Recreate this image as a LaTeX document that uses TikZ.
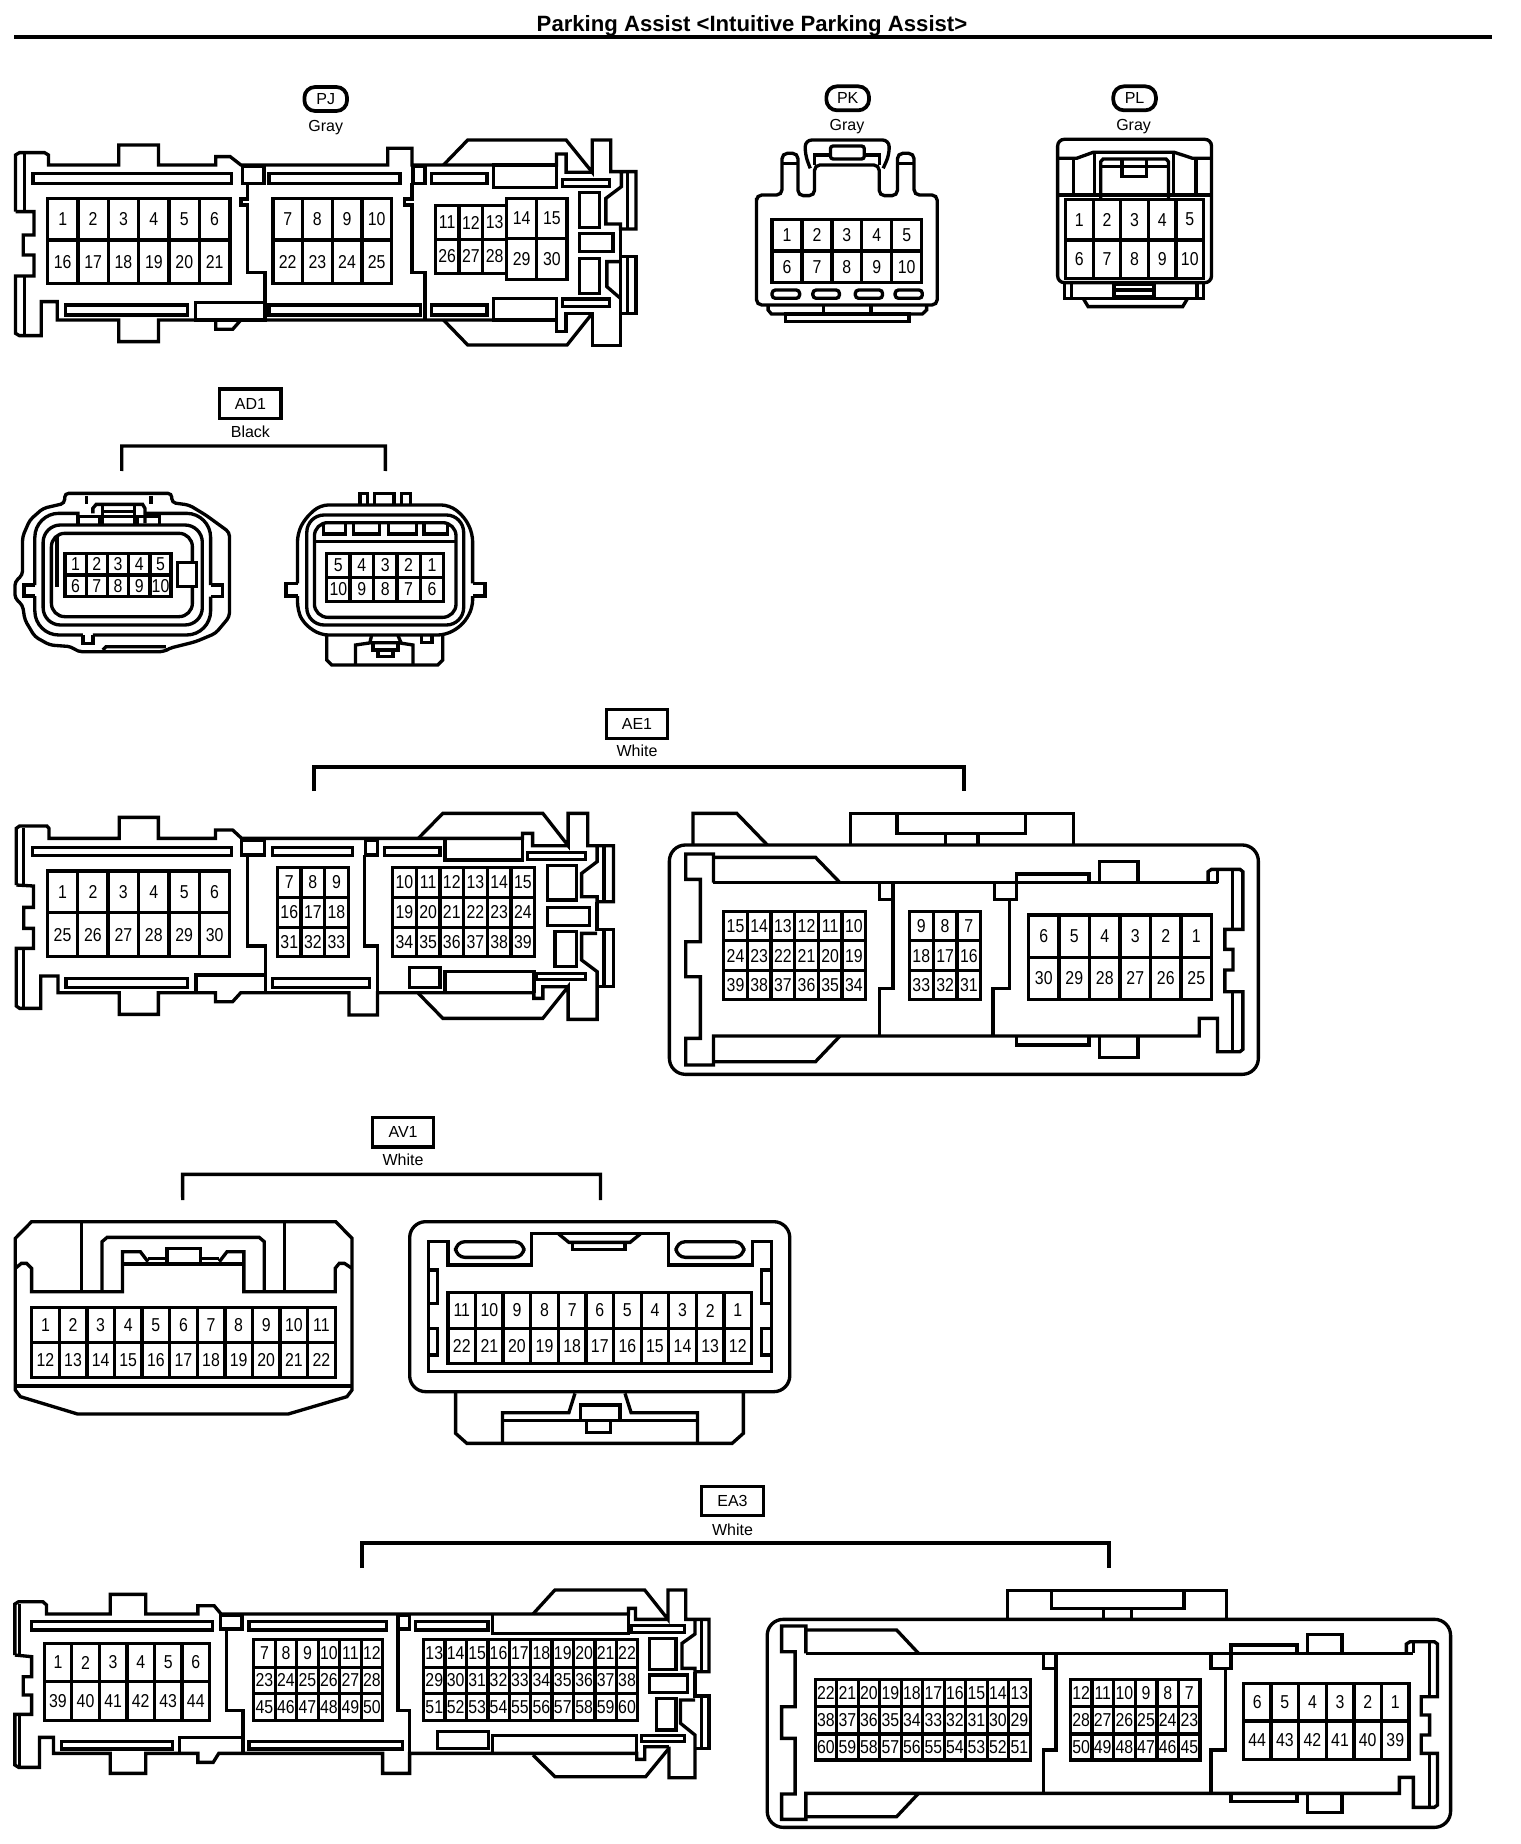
\documentclass[tikz,border=0pt]{standalone}
\usepackage{fontspec}
\setmainfont{Liberation Sans}
\newfontfamily\pinfont[FakeStretch=0.85]{Liberation Sans}

\tikzset{
  body/.style={line width=2.5pt,line join=miter},
  bracket/.style={line width=2.5pt},
  pinbox/.style={line width=2.5pt},
  pinnum/.style={font=\pinfont\fontsize{14}{14}\selectfont,inner sep=0pt},
  tagbox/.style={draw,line width=2.4pt,minimum width=46pt,minimum height=22pt,inner sep=0pt,font=\fontsize{12}{12}\selectfont},
  tagoval/.style={draw,line width=2.8pt,rounded corners=8pt,minimum width=32pt,minimum height=18pt,inner sep=0pt,font=\fontsize{12}{12}\selectfont},
  colour/.style={inner sep=0pt,font=\fontsize{12}{12}\selectfont},
  frame/.style n args={3}{shift={(#1,#2)},xscale=1/#3,yscale=1/3},
}

% x, cell width, top, bottom, labels
\newcommand{\pingrid}[5]{
  \foreach \lab [count=\n from 0] in {#5} {
    \draw[pinbox] ({#1+\n*#2},#3) rectangle ({#1+(\n+1)*#2},#4);
    \node[pinnum] (pin\lab) at ({#1+(\n+.5)*#2},{(#3+#4)/2}) {\lab};
  }
}

\begin{document}
\begin{tikzpicture}[x=0.75pt,y=-0.75pt]
  \useasboundingbox (0,0) rectangle (1520,1844);

  % title
  \node[inner sep=0pt,font=\fontsize{16.6}{16.6}\selectfont\bfseries] (title) at (752,26) {Parking Assist <Intuitive Parking Assist>};
  \coordinate (ruleL) at (14,37);
  \coordinate (ruleR) at (1492,37);
  \draw[line width=3.7pt] (ruleL) -- (ruleR);

  % PJ
  \begin{scope}[frame={0}{0}{2.063},name prefix=PJ-]
    \node[tagoval] (tag) at (672,297) {PJ};
    \node[colour] (col) at (672,382) {Gray};
    \draw[body] (32,635) -- (32,465) -- (40,458) -- (92,458) -- (100,465) -- (100,495) -- (245,495) -- (245,435) -- (327,435) -- (327,495) -- (445,495) -- (445,470) -- (475,470) -- (497,495) -- (800,495) -- (800,445) -- (850,445) -- (850,495) -- (1148,495) -- (1148,462) -- (1168,462) -- (1168,517) -- (1222,517);
    \draw[body] (915,495) -- (965,420) -- (1168,420) -- (1222,517) -- (1222,420) -- (1260,420) -- (1260,515) -- (1312,515) -- (1312,687) -- (1280,687) -- (1280,672) -- (1250,672) -- (1250,595) -- (1282,560) -- (1282,515);
    \draw[body] (1295,515) -- (1295,687);
    \draw[body] (1280,687) -- (1280,770) -- (1312,770) -- (1312,940) -- (1280,940) -- (1280,770);
    \draw[body] (1295,770) -- (1295,940);
    \draw[body] (1280,785) -- (1252,785) -- (1252,860) -- (1280,895);
    \draw[body] (1280,940) -- (1280,1037) -- (1222,1037) -- (1222,940) -- (1168,940) -- (1168,995) -- (1148,995) -- (1148,960);
    \draw[body] (915,960) -- (965,1035) -- (1170,1035) -- (1222,940);
    \draw[body] (32,635) -- (70,635) -- (70,705) -- (48,705) -- (48,765) -- (70,765) -- (70,828) -- (32,828) -- (32,1000) -- (40,1007) -- (85,1007) -- (85,905) -- (118,905) -- (118,960) -- (245,960) -- (245,1025) -- (327,1025) -- (327,960) -- (445,960) -- (445,988) -- (480,988) -- (497,960) -- (1148,960);
    \draw[body] (50,462) -- (50,635) (50,828) -- (50,1005);
    % slots
    \foreach \xa/\ya/\xb/\yb in {68/520/478/550,135/915/387/945,555/520/825/550,555/915/868/945,890/520/1005/550,890/915/1005/945,1018/495/1148/563,1018/895/1148/960,500/500/545/550,852/500/877/550,403/908/547/960,1160/538/1257/560,1160/897/1257/920,1195/577/1237/682,1195/700/1265/755,1195/775/1237/880}
      \draw[body] (\xa,\ya) rectangle (\xb,\yb);
    % dividers
    \draw[body] (510,550) -- (510,597) -- (497,597) -- (497,615) -- (510,615) -- (510,818) -- (547,818) -- (547,960);
    \draw[body] (850,550) -- (850,597) -- (835,597) -- (835,615) -- (850,615) -- (850,818) -- (877,818) -- (877,960);
    \pingrid{98}{62.7}{595}{720}{1,...,6}
    \pingrid{98}{62.7}{720}{850}{16,...,21}
    \pingrid{563}{61.2}{595}{720}{7,...,10}
    \pingrid{563}{61.2}{720}{850}{22,...,25}
    \pingrid{898}{49}{617}{718}{11,12,13}
    \pingrid{898}{49}{718}{820}{26,27,28}
    \pingrid{1045}{62.5}{595}{716}{14,15}
    \pingrid{1045}{62.5}{716}{838}{29,30}
  \end{scope}

  % PK
  \begin{scope}[frame={720}{60}{3.015},name prefix=PK-]
    \node[tagoval] (tag) at (385,115) {PK};
    \node[colour] (col) at (383,201) {Gray};
    \draw[body,rounded corners=4pt] (110,430) -- (110,405) -- (187,405) -- (187,280) -- (235,280) -- (235,407) -- (285,407) -- (285,315) -- (480,315) -- (480,407) -- (535,407) -- (535,280) -- (585,280) -- (585,405) -- (655,405) -- (655,735) -- (110,735) -- cycle;
    \draw[body] (187,310) -- (235,310) (535,310) -- (585,310);
    \draw[body,rounded corners=5pt] (272,325) -- (257,285) -- (257,240) -- (510,240) -- (510,285) -- (492,325);
    \draw[body] (285,315) -- (285,285) -- (480,285) -- (480,315);
    \draw[body,fill=white,rounded corners=2pt] (333,258) rectangle (435,297);
    \draw[body] (145,738) -- (145,750) -- (155,762) -- (610,762) -- (623,750) -- (623,738);
    \draw[body] (312,738) -- (312,762) (455,738) -- (455,762);
    \draw[body] (197,762) rectangle (570,785);
    \foreach \xa/\xb in {157/240,280/360,408/490,528/610}
      \draw[body,rounded corners=2.5pt] (\xa,690) rectangle (\xb,715);
    \pingrid{157}{90.2}{478}{573}{1,...,5}
    \pingrid{157}{90.2}{573}{668}{6,...,10}
  \end{scope}

  % PL
  \begin{scope}[frame={720}{60}{3.015},name prefix=PL-]
    \node[tagoval] (tag) at (1250,115) {PL};
    \node[colour] (col) at (1247,201) {Gray};
    \draw[body,rounded corners=5pt] (1018,668) -- (1018,238) -- (1482,238) -- (1482,668) -- cycle;
    \draw[body] (1018,295) -- (1075,295) -- (1125,277) -- (1370,277) -- (1425,295) -- (1482,295);
    \draw[body] (1018,405) -- (1482,405);
    \draw[body] (1065,295) -- (1065,405) (1435,295) -- (1435,405) (1130,277) -- (1130,405) (1368,277) -- (1368,405);
    \draw[body] (1148,415) -- (1148,305) -- (1155,297) -- (1345,297) -- (1352,305) -- (1352,415);
    \draw[body] (1148,320) -- (1352,320);
    \draw[body] (1212,300) -- (1212,350) -- (1285,350) -- (1285,300);
    \pingrid{1042}{83.2}{418}{540}{1,...,5}
    \pingrid{1042}{83.2}{540}{655}{6,...,10}
    \draw[body] (1038,668) -- (1038,715) -- (1458,715) -- (1458,668);
    \draw[body] (1060,668) -- (1060,715) (1438,668) -- (1438,715);
    \draw[body] (1188,672) rectangle (1308,710);
    \draw[body] (1188,690) -- (1308,690);
    \draw[body] (1095,715) -- (1110,740) -- (1395,740) -- (1410,715);
  \end{scope}

  % AD1
  \begin{scope}[frame={0}{370}{3.015},name prefix=AD-]
    \node[tagbox] (tag) at (755,101) {AD1};
    \node[colour] (col) at (755,185) {Black};
    \coordinate (brL) at (367,303);
    \coordinate (brR) at (1162,303);
    \draw[bracket] (brL) -- (367,228) -- (1162,228) -- (brR);
    % left half
    \draw[body,rounded corners=3pt] (45,660) -- (45,635) -- (68,615) -- (68,500) -- (90,450) -- (130,415) -- (195,400) -- (195,370) -- (518,370) -- (518,398) -- (570,405) -- (620,435) -- (692,487) -- (692,740) -- (650,790) -- (590,815) -- (510,835) -- (495,845) -- (235,845) -- (215,830) -- (150,825) -- (105,800) -- (75,750) -- (68,705) -- (45,685) -- cycle;
    \draw[body,rounded corners=18pt] (105,645) -- (105,430) -- (240,430);
    \draw[body,rounded corners=18pt] (437,430) -- (635,430) -- (635,645);
    \draw[body] (105,645) -- (72,645) -- (72,678) -- (105,678);
    \draw[body,rounded corners=18pt] (105,678) -- (105,795) -- (250,795);
    \draw[body] (250,795) -- (250,820) -- (280,820) -- (280,795);
    \draw[body,rounded corners=18pt] (280,795) -- (635,795) -- (635,680);
    \draw[body] (635,645) -- (670,645) -- (670,680) -- (635,680);
    \draw[body,rounded corners=13pt] (130,465) rectangle (610,765);
    \draw[body,rounded corners=10pt] (155,490) rectangle (580,740);
    \draw[body] (172,500) -- (172,650);
    \draw[body,fill=white] (535,578) rectangle (592,650);
    \draw[body] (280,430) -- (280,415) -- (290,403) -- (430,403) -- (437,415) -- (437,460);
    \draw[body] (310,405) -- (310,465) (405,405) -- (405,465) (310,425) -- (405,425);
    \draw[body] (235,465) -- (235,440) -- (480,440) -- (480,465) (300,440) -- (300,465) (415,440) -- (415,465);
    \draw[body] (260,378) -- (260,403) (455,378) -- (455,403);
    \draw[body] (310,840) -- (320,830) -- (500,830);
    \pingrid{196}{64}{550}{615}{1,...,5}
    \pingrid{196}{64}{615}{680}{6,...,10}
    % right half
    \draw[body,rounded corners=6pt] (897,640) -- (897,490) -- (920,445) -- (965,405) -- (1355,405) -- (1400,440) -- (1425,490) -- (1425,640);
    \draw[body] (897,640) -- (862,640) -- (862,678) -- (897,678) (1425,640) -- (1462,640) -- (1462,678) -- (1425,678);
    \draw[body,rounded corners=6pt] (897,678) -- (897,720) -- (915,760) -- (965,795) -- (1345,795) -- (1395,765) -- (1425,715) -- (1425,678);
    \draw[body,rounded corners=13pt] (925,435) rectangle (1398,765);
    \draw[body,rounded corners=10pt] (948,458) rectangle (1375,742);
    \draw[body] (948,515) -- (1375,515);
    \foreach \xa/\xb in {975/1042,1065/1145,1172/1255,1278/1350}
      \draw[body] (\xa,462) -- (\xa,492) -- (\xb,492) -- (\xb,462);
    \foreach \xa/\xb in {1085/1108,1130/1188,1210/1238}
      \draw[body] (\xa,405) -- (\xa,370) -- (\xb,370) -- (\xb,405);
    \draw[body] (985,795) -- (985,870) -- (1000,885) -- (1320,885) -- (1335,870) -- (1335,795);
    \draw[body] (1072,885) -- (1072,825) -- (1120,818) -- (1200,818) -- (1245,825) -- (1245,885);
    \draw[body] (1120,797) -- (1115,820) (1200,797) -- (1210,820);
    \draw[body] (1125,815) -- (1125,840) -- (1200,840) -- (1200,815);
    \draw[body] (1140,840) -- (1140,860) -- (1185,860) -- (1185,840);
    \draw[body] (1270,795) -- (1270,818) -- (1303,818) -- (1303,795);
    \pingrid{985}{70.6}{550}{622}{5,4,...,1}
    \pingrid{985}{70.6}{622}{695}{10,9,...,6}
  \end{scope}

  % AE1
  \node[tagbox] (AEtag) at (637,724) {AE1};
  \node[colour] (AEcol) at (637,751) {White};
  \coordinate (AEL) at (314,791);
  \coordinate (AER) at (964,791);
  \draw[bracket] (AEL) -- (314,767) -- (964,767) -- (AER);

  \begin{scope}[frame={0}{700}{2.45},name prefix=AEa-]
    \draw[body] (40,555) -- (40,385) -- (48,378) -- (115,378) -- (120,385) -- (120,415) -- (292,415) -- (292,352) -- (388,352) -- (388,415) -- (528,415) -- (528,390) -- (570,390) -- (592,415) -- (1280,415) -- (1280,400) -- (1305,400) -- (1305,437) -- (1392,437);
    \draw[body] (1025,415) -- (1085,340) -- (1330,340) -- (1392,437) -- (1392,340) -- (1440,340) -- (1440,437) -- (1503,437) -- (1503,605) -- (1463,605) -- (1463,590) -- (1425,590) -- (1425,520) -- (1463,485) -- (1463,437);
    \draw[body] (1480,437) -- (1480,605);
    \draw[body] (1463,605) -- (1463,688) -- (1503,688) -- (1503,860) -- (1463,860);
    \draw[body] (1480,688) -- (1480,860);
    \draw[body] (1463,700) -- (1425,700) -- (1425,780) -- (1463,815) -- (1463,958) -- (1392,958) -- (1392,860) -- (1330,955) -- (1085,955) -- (1025,880);
    \draw[body] (1392,860) -- (1330,860) -- (1330,895) -- (1308,895) -- (1308,878) -- (925,878) -- (925,945) -- (855,945) -- (855,878) -- (590,878) -- (570,905) -- (528,905) -- (528,878) -- (388,878) -- (388,943) -- (292,943) -- (292,878) -- (142,878) -- (142,828) -- (100,828) -- (100,925) -- (48,925) -- (40,918) -- (40,745) -- (82,745) -- (82,685) -- (58,685) -- (58,622) -- (82,622) -- (82,558) -- (40,555);
    \draw[body] (58,385) -- (58,555) (58,745) -- (58,925);
    % slots
    \foreach \xa/\ya/\xb/\yb in {80/443/568/467,162/835/460/863,668/443/863/467,668/835/905/863,942/443/1078/467,1003/802/1078/862,1293/457/1435/478,1315/820/1435/838,1342/497/1412/600,1342/622/1445/677,1360/695/1412/800,592/420/648/465,895/420/925/465}
      \draw[body] (\xa,\ya) rectangle (\xb,\yb);
    \draw[body] (1090,420) -- (1090,480) -- (1280,480) -- (1280,420);
    \draw[body] (1090,878) -- (1090,815) -- (1308,815) -- (1308,878);
    % dividers
    \draw[body] (607,465) -- (607,738) -- (650,738) -- (650,878);
    \draw[body] (480,878) -- (480,825) -- (650,825);
    \draw[body] (893,465) -- (893,738) -- (925,738) -- (925,878);
    \pingrid{116}{74.5}{513}{638}{1,...,6}
    \pingrid{116}{74.5}{638}{770}{25,...,30}
    \pingrid{680}{57.7}{502}{592}{7,8,9}
    \pingrid{680}{57.7}{592}{682}{16,17,18}
    \pingrid{680}{57.7}{682}{770}{31,32,33}
    \pingrid{962}{58}{502}{592}{10,...,15}
    \pingrid{962}{58}{592}{682}{19,...,24}
    \pingrid{962}{58}{682}{770}{34,...,39}
  \end{scope}

  \begin{scope}[frame={640}{740}{2.45},name prefix=AEb-]
    \draw[body,rounded corners=12pt] (72,315) rectangle (1515,1003);
    \draw[body] (130,315) -- (130,220) -- (237,220) -- (312,315);
    \draw[body] (515,315) -- (515,220) -- (1062,220) -- (1062,315);
    \draw[body] (630,222) -- (630,280) -- (945,280) -- (945,222);
    \draw[body] (748,280) -- (748,315) (828,280) -- (828,315);
    \draw[body] (180,428) -- (1415,428);
    \draw[body] (180,428) -- (180,342) -- (112,342) -- (112,418) -- (148,418) -- (148,605) -- (112,605) -- (112,710) -- (148,710) -- (148,895) -- (112,895) -- (112,975) -- (180,975) -- (180,888) -- (1370,888) -- (1370,835) -- (1415,835) -- (1415,935) -- (1470,935) -- (1477,928) -- (1477,755) -- (1433,755) -- (1433,690) -- (1453,690) -- (1453,628) -- (1433,628) -- (1433,568) -- (1477,568) -- (1477,395) -- (1470,388) -- (1400,388) -- (1392,395) -- (1392,428);
    \draw[body] (180,352) -- (430,352) -- (490,428);
    \draw[body] (180,965) -- (430,965) -- (490,888);
    \draw[body] (1415,390) -- (1415,428) (1452,390) -- (1452,568) (1452,755) -- (1452,935);
    \draw[body] (922,428) -- (922,402) -- (1100,402) -- (1100,428);
    \draw[body] (1125,428) -- (1125,365) -- (1220,365) -- (1220,428);
    \draw[body] (922,888) -- (922,915) -- (1100,915) -- (1100,888);
    \draw[body] (1125,888) -- (1125,952) -- (1220,952) -- (1220,888);
    % dividers
    \draw[body] (587,428) -- (587,478) -- (620,478);
    \draw[body] (620,428) -- (620,745) -- (587,745) -- (587,888);
    \draw[body] (868,428) -- (868,478) -- (922,478) -- (922,428);
    \draw[body] (905,478) -- (905,745) -- (865,745) -- (865,888);
    \pingrid{205}{58}{514}{602}{15,14,...,10}
    \pingrid{205}{58}{602}{692}{24,23,...,19}
    \pingrid{205}{58}{692}{778}{39,38,...,34}
    \pingrid{660}{58.3}{514}{602}{9,8,7}
    \pingrid{660}{58.3}{602}{692}{18,17,16}
    \pingrid{660}{58.3}{692}{778}{33,32,31}
    \pingrid{952}{74.7}{525}{652}{6,5,...,1}
    \pingrid{952}{74.7}{652}{778}{30,29,...,25}
  \end{scope}

  % AV1
  \begin{scope}[frame={0}{1110}{1.96},name prefix=AV-]
    \node[tagbox] (tag) at (790,67) {AV1};
    \node[colour] (col) at (790,148) {White};
    \coordinate (brL) at (358,270);
    \coordinate (brR) at (1177,270);
    \draw[bracket] (brL) -- (358,193) -- (1177,193) -- (brR);
    % left half
    \draw[body] (30,840) -- (30,385) -- (62,335) -- (658,335) -- (690,385) -- (690,840) -- (680,860) -- (565,912) -- (152,912) -- (40,860) -- cycle;
    \draw[body] (30,828) -- (690,828);
    \draw[body] (30,475) -- (42,460) -- (52,460) -- (62,475) -- (62,545) -- (240,545) -- (240,425) -- (275,425) -- (290,455);
    \draw[body] (690,475) -- (675,460) -- (665,460) -- (657,475) -- (657,545) -- (478,545) -- (478,425) -- (445,425) -- (430,455);
    \draw[body] (160,545) -- (160,337) (557,545) -- (557,337);
    \draw[body] (200,545) -- (200,395) -- (210,382) -- (508,382) -- (518,395) -- (518,545);
    \draw[body] (240,462) -- (478,462);
    \draw[body] (327,462) -- (327,415) -- (393,415) -- (393,462);
    \draw[body] (290,445) -- (327,445) (393,445) -- (430,445);
    \pingrid{62}{54.1}{592}{698}{1,...,11}
    \pingrid{62}{54.1}{698}{803}{12,...,22}
    % right half
    \draw[body,rounded corners=12pt] (803,335) rectangle (1548,845);
    \draw[body] (840,785) -- (840,395) -- (878,395) -- (878,465) -- (1042,465) -- (1042,370) -- (1310,370) -- (1310,465) -- (1475,465) -- (1475,395) -- (1512,395) -- (1512,785) -- cycle;
    \draw[body,rounded corners=7pt] (893,395) rectangle (1027,442);
    \draw[body,rounded corners=7pt] (1325,395) rectangle (1458,442);
    \draw[body] (1095,372) -- (1115,397) -- (1235,397) -- (1255,372);
    \draw[body] (1122,397) -- (1122,418) -- (1225,418) -- (1225,397);
    \draw[body] (840,480) -- (858,480) -- (858,580) -- (840,580) (840,655) -- (858,655) -- (858,735) -- (840,735);
    \draw[body] (1512,480) -- (1493,480) -- (1493,580) -- (1512,580) (1512,655) -- (1493,655) -- (1493,735) -- (1512,735);
    \pingrid{878}{54.1}{548}{655}{11,10,...,1}
    \pingrid{878}{54.1}{655}{760}{22,21,...,12}
    \draw[body] (893,845) -- (893,970) -- (915,1000) -- (1435,1000) -- (1457,970) -- (1457,845);
    \draw[body] (985,1000) -- (985,908) -- (1115,908) -- (1127,850);
    \draw[body] (1367,1000) -- (1367,908) -- (1237,908) -- (1225,850);
    \draw[body] (985,932) -- (1367,932);
    \draw[body] (1138,932) -- (1138,885) -- (1215,885) -- (1215,932);
    \draw[body] (1150,932) -- (1150,968) -- (1197,968) -- (1197,932);
  \end{scope}

  % EA3
  \node[tagbox] (EAtag) at (732.5,1501) {EA3};
  \node[colour] (EAcol) at (732.5,1529.5) {White};
  \coordinate (EAL) at (362,1568);
  \coordinate (EAR) at (1109,1568);
  \draw[bracket] (EAL) -- (362,1543) -- (1109,1543) -- (EAR);

  \begin{scope}[frame={0}{1480}{2.148},name prefix=EAa-]
    \draw[body] (32,525) -- (32,372) -- (40,365) -- (92,365) -- (100,375) -- (100,402) -- (237,402) -- (237,343) -- (313,343) -- (313,402) -- (425,402) -- (425,377) -- (460,377) -- (475,402) -- (1350,402) -- (1350,385) -- (1365,385) -- (1365,418) -- (1435,418);
    \draw[body] (1145,402) -- (1192,330) -- (1385,330) -- (1435,418) -- (1435,330) -- (1473,330) -- (1473,418) -- (1523,418) -- (1523,575) -- (1493,575) -- (1493,565) -- (1465,565) -- (1465,490) -- (1493,462) -- (1493,418);
    \draw[body] (1507,420) -- (1507,575);
    \draw[body] (1493,575) -- (1493,648) -- (1523,648) -- (1523,805) -- (1493,805);
    \draw[body] (1507,648) -- (1507,805);
    \draw[body] (1493,660) -- (1462,660) -- (1462,730) -- (1493,765) -- (1493,893) -- (1437,893) -- (1437,800);
    \draw[body] (1437,805) -- (1387,890) -- (1192,890) -- (1145,825);
    \draw[body] (1437,800) -- (1385,800) -- (1385,838) -- (1368,838) -- (1368,820) -- (880,820) -- (880,880) -- (822,880) -- (822,820) -- (470,820) -- (458,847) -- (425,847) -- (425,820) -- (313,820) -- (313,880) -- (237,880) -- (237,820) -- (115,820) -- (115,772) -- (85,772) -- (85,862) -- (40,862) -- (32,855) -- (32,703) -- (68,703) -- (68,645) -- (50,645) -- (50,590) -- (68,590) -- (68,530) -- (32,525);
    \draw[body] (42,372) -- (42,525) (42,703) -- (42,860);
    % slots
    \foreach \xa/\ya/\xb/\yb in {68/425/457/450,132/785/370/807,535/425/830/450,535/785/865/807,892/425/1048/450,940/755/1050/805,1357/437/1470/457,1378/767/1470/785,1395/475/1452/568,1395/585/1477/637,1410/655/1452/750,473/405/520/447,855/405/880/447}
      \draw[body] (\xa,\ya) rectangle (\xb,\yb);
    \draw[body] (1058,405) -- (1058,460) -- (1350,460) -- (1350,405);
    \draw[body] (1058,820) -- (1058,767) -- (1368,767) -- (1368,820);
    % dividers
    \draw[body] (487,447) -- (487,692) -- (522,692) -- (522,820);
    \draw[body] (385,820) -- (385,772) -- (522,772);
    \draw[body] (855,447) -- (855,692) -- (880,692) -- (880,820);
    \pingrid{95}{59.2}{490}{605}{1,...,6}
    \pingrid{95}{59.2}{605}{722}{39,...,44}
    \pingrid{545}{46.2}{478}{562}{7,...,12}
    \pingrid{545}{46.2}{562}{640}{23,...,28}
    \pingrid{545}{46.2}{640}{722}{45,...,50}
    \pingrid{910}{46}{478}{562}{13,...,22}
    \pingrid{910}{46}{562}{640}{29,...,38}
    \pingrid{910}{46}{640}{722}{51,...,60}
  \end{scope}

  \begin{scope}[frame={750}{1480}{2.148},name prefix=EAb-]
    \draw[body,rounded corners=12pt] (37,418) rectangle (1505,1042);
    \draw[body] (553,418) -- (553,332) -- (1023,332) -- (1023,418);
    \draw[body] (648,335) -- (648,385) -- (932,385) -- (932,335);
    \draw[body] (760,385) -- (760,418) (820,385) -- (820,418);
    \draw[body] (120,520) -- (1425,520);
    \draw[body] (120,520) -- (120,438) -- (68,438) -- (68,515) -- (97,515) -- (97,680) -- (68,680) -- (68,775) -- (97,775) -- (97,942) -- (68,942) -- (68,1018) -- (120,1018) -- (120,940) -- (1395,940) -- (1395,892) -- (1425,892) -- (1425,982) -- (1470,982) -- (1477,975) -- (1477,820) -- (1442,820) -- (1442,765) -- (1460,765) -- (1460,705) -- (1442,705) -- (1442,650) -- (1477,650) -- (1477,492) -- (1470,485) -- (1418,485) -- (1410,492) -- (1410,520);
    \draw[body] (120,450) -- (315,450) -- (362,520);
    \draw[body] (120,1010) -- (315,1010) -- (362,940);
    \draw[body] (1425,490) -- (1425,520) (1460,490) -- (1460,650) (1460,820) -- (1460,980);
    \draw[body] (1033,520) -- (1033,495) -- (1175,495) -- (1175,520);
    \draw[body] (1197,520) -- (1197,463) -- (1272,463) -- (1272,520);
    \draw[body] (1033,940) -- (1033,965) -- (1175,965) -- (1175,940);
    \draw[body] (1197,940) -- (1197,997) -- (1272,997) -- (1272,940);
    % dividers
    \draw[body] (630,520) -- (630,565) -- (657,565);
    \draw[body] (657,520) -- (657,810) -- (630,810) -- (630,940);
    \draw[body] (990,520) -- (990,565) -- (1033,565) -- (1033,520);
    \draw[body] (1022,565) -- (1022,810) -- (990,810) -- (990,940);
    \pingrid{140}{46.2}{598}{680}{22,21,...,13}
    \pingrid{140}{46.2}{680}{762}{38,37,...,29}
    \pingrid{140}{46.2}{762}{840}{60,59,...,51}
    \pingrid{688}{46.5}{598}{680}{12,11,...,7}
    \pingrid{688}{46.5}{680}{762}{28,27,...,23}
    \pingrid{688}{46.5}{762}{840}{50,49,...,45}
    \pingrid{1060}{59.3}{610}{723}{6,5,...,1}
    \pingrid{1060}{59.3}{723}{838}{44,43,...,39}
  \end{scope}
\end{tikzpicture}
\end{document}
